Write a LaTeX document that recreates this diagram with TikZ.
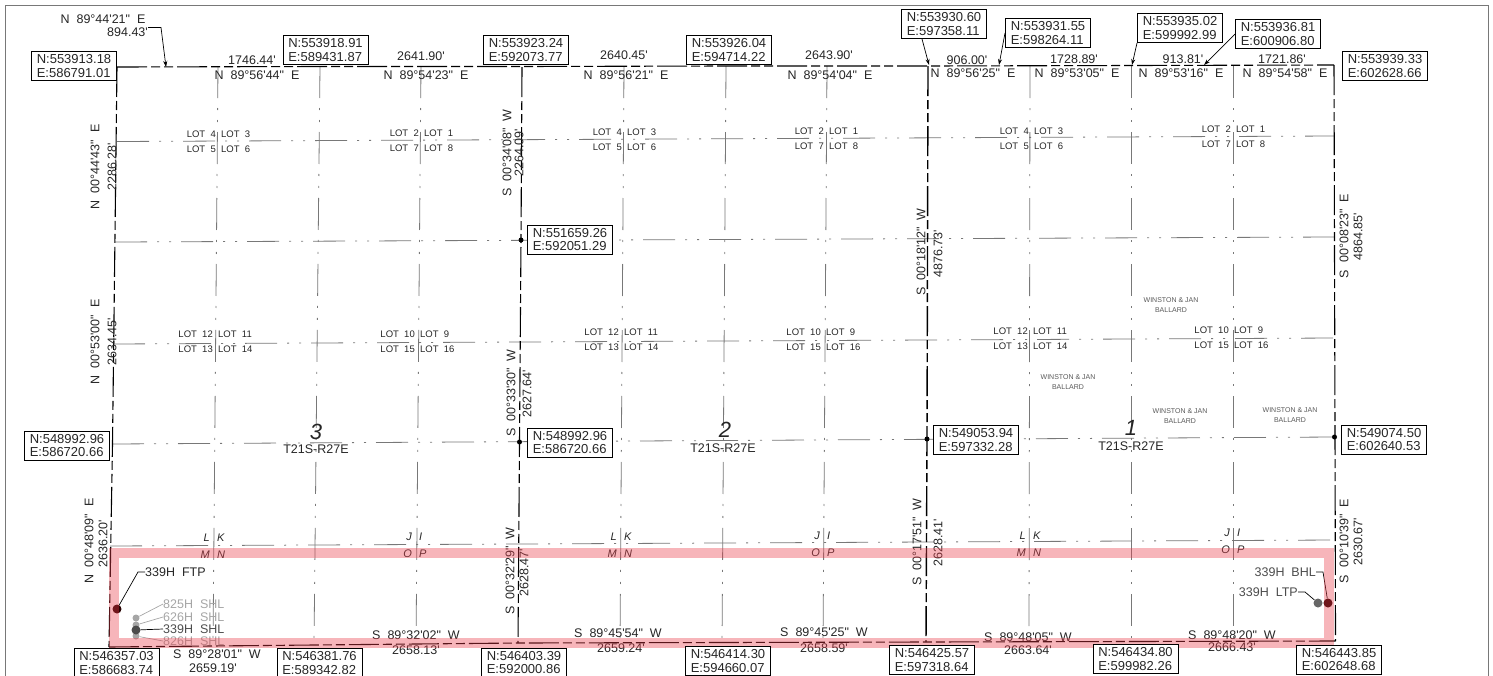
\documentclass[tikz,border=0pt]{standalone}
\usepackage{fontspec}
\usetikzlibrary{arrows.meta}
\newfontfamily\cadfont{Liberation Sans}
\definecolor{bandred}{RGB}{234,60,73}
\definecolor{linegray}{RGB}{120,120,120}
\tikzset{
    cad/.style={font=\cadfont\fontsize{12.5}{13.5}\selectfont, inner sep=0pt, text=black!85},
    coordbox/.style={cad, font=\cadfont\fontsize{13}{13.5}\selectfont, draw=black, fill=white, line width=1pt, align=left, minimum width=85pt, minimum height=29pt},
    lotname/.style={cad, font=\cadfont\fontsize{9.5}{11}\selectfont},
    owner/.style={cad, font=\cadfont\fontsize{7}{10.5}\selectfont, text=black!65, align=center},
    section/.style={cad, font=\cadfont\itshape\fontsize{22}{24}\selectfont},
    aliquot/.style={cad, font=\cadfont\itshape\fontsize{11}{12}\selectfont},
    boundary/.style={black, line width=1.1pt, dash pattern=on 30pt off 4pt on 9pt off 4pt on 9pt off 4pt},
    quarter/.style={linegray, line width=0.8pt, dash pattern=on 32pt off 10pt on 2pt off 10pt on 2pt off 10pt},
    leader/.style={black, line width=0.7pt},
    arrowed/.style={leader, -{Stealth[length=6pt,width=4pt]}},
    corner/.style={circle, fill=black, inner sep=0pt, minimum size=5pt},
    well/.style={circle, inner sep=0pt, minimum size=#1},
}
\begin{document}
\begin{tikzpicture}[x=1pt, y=-1pt]
    \clip (0,0) rectangle (1493,675);
    \draw[linegray, line width=1pt] (5,5) rectangle (1488,700);

    % quarter lines
    \foreach \ya/\xa/\yb in {141.5/117/136, 242/115/237, 344/113/338, 444/112/437, 546/110/540}
        \draw[quarter] (\xa,\ya) -- (1334,\yb);
    \foreach \xa/\xb in {218/213, 320/314, 421/416, 624/620, 726/722, 827/823, 1030/1029, 1131/1131, 1233/1233}
        \draw[quarter] (\xa,66) -- (\xb,645);

    % section lines
    \draw[boundary] (117,67) -- (320,66.5) -- (522,66.5) -- (726,66) -- (928,66) -- (1131,65.5) -- (1334,65);
    \draw[boundary] (117,67) -- (112.5,444) -- (109,647);
    \draw[boundary] (1334,65) -- (1335,437) -- (1335.5,641);
    \draw[boundary] (109,647) -- (518,643) -- (926,642) -- (1335.5,641);
    \draw[boundary] (522,67) -- (521,240) -- (519.5,442) -- (518,643);
    \draw[boundary, line width=1.4pt] (928,66) -- (927,439) -- (926,642);

    \node[corner] (c1) at (521,240) {};
    \node[corner] (c2) at (519.5,442) {};
    \node[corner] (c3) at (927,439) {};
    \node[corner] (c4) at (1334.5,437) {};

    % lots
    \foreach \nn/\cx/\cy/\ca/\cb/\cc/\cd in {
        a/218/134/4/3/5/6, b/421/133/2/1/7/8, c/624/132/4/3/5/6, d/826/131/2/1/7/8, e/1031/131/4/3/5/6, f/1233/129/2/1/7/8,
        g/215/334/12/11/13/14, h/417/334/10/9/15/16, i/621/332/12/11/13/14, j/823/332/10/9/15/16, k/1030/331/12/11/13/14, l/1231/330/10/9/15/16}{
        \node[lotname, anchor=east] (\nn1) at (\cx-2,\cy) {LOT~~\ca};
        \node[lotname, anchor=west] (\nn2) at (\cx+3,\cy) {LOT~~\cb};
        \node[lotname, anchor=east] (\nn3) at (\cx-2,\cy+15) {LOT~~\cc};
        \node[lotname, anchor=west] (\nn4) at (\cx+3,\cy+15) {LOT~~\cd};
    }
    \foreach \nn/\cx/\cy/\ca/\cb/\cc/\cd in {
        m/213/538/L/K/M/N, n/415/537/J/I/O/P, o/620/537/L/K/M/N, p/823/536/J/I/O/P, q/1029/536/L/K/M/N, r/1233/533/J/I/O/P}{
        \node[aliquot, anchor=east] (\nn1) at (\cx-3,\cy) {\ca};
        \node[aliquot, anchor=west] (\nn2) at (\cx+4,\cy) {\cb};
        \node[aliquot, anchor=east] (\nn3) at (\cx-3,\cy+17) {\cc};
        \node[aliquot, anchor=west] (\nn4) at (\cx+4,\cy+17) {\cd};
    }

    % sections
    \node[section] (sec3) at (316,432) {3};
    \node[cad] (twn3) at (316,449) {T21S-R27E};
    \node[section] (sec2) at (725,430) {2};
    \node[cad] (twn2) at (723,448) {T21S-R27E};
    \node[section] (sec1) at (1131,428) {1};
    \node[cad] (twn1) at (1131,446) {T21S-R27E};

    \node[owner] (own1) at (1171,305) {WINSTON \& JAN\\BALLARD};
    \node[owner] (own2) at (1068,382) {WINSTON \& JAN\\BALLARD};
    \node[owner] (own3) at (1180,416) {WINSTON \& JAN\\BALLARD};
    \node[owner] (own4) at (1290,415) {WINSTON \& JAN\\BALLARD};

    % bearings and distances along the lines
    \foreach \nn/\cx/\cy/\txt in {
        t1/252/60/{1746.44'}, t2/257/75/{N~~89°56'44"~~E},
        t3/421/56/{2641.90'}, t4/426/75/{N~~89°54'23"~~E},
        t5/624/55/{2640.45'}, t6/626/75/{N~~89°56'21"~~E},
        t7/829/55/{2643.90'}, t8/830/75/{N~~89°54'04"~~E},
        t9/967/60/{906.00'}, t10/973/73/{N~~89°56'25"~~E},
        t11/1074/59/{1728.89'}, t12/1077/73/{N~~89°53'05"~~E},
        t13/1183/59/{913.81'}, t14/1181/73/{N~~89°53'16"~~E},
        t15/1282/59/{1721.86'}, t16/1285/73/{N~~89°54'58"~~E},
        b1/217/654/{S~~89°28'01"~~W}, b2/213/668/{2659.19'},
        b3/416/635/{S~~89°32'02"~~W}, b4/416/650/{2658.13'},
        b5/618/633/{S~~89°45'54"~~W}, b6/621/648/{2659.24'},
        b7/824/632/{S~~89°45'25"~~W}, b8/824/648/{2658.59'},
        b9/1028/637/{S~~89°48'05"~~W}, b10/1028/650/{2663.64'},
        b11/1232/635/{S~~89°48'20"~~W}, b12/1232/647/{2666.43'}}
        \node[cad] (\nn) at (\cx,\cy) {\txt};
    \foreach \nn/\cx/\cy/\txt in {
        l1/95/167/{N~~00°44'43"~~E}, l2/112/167/{2286.28'},
        l3/95/342/{N~~00°53'00"~~E}, l4/112/342/{2634.45'},
        l5/89/541/{N~~00°48'09"~~E}, l6/103/544/{2636.20'},
        m1/507/153/{S~~00°34'08"~~W}, m2/519/153/{2264.09'},
        m3/511/393/{S~~00°33'30"~~W}, m4/527/394/{2627.64'},
        m5/510/571/{S~~00°32'29"~~W}, m6/524/573/{2628.47'},
        n1/921/252/{S~~00°18'12"~~W}, n2/938/254/{4876.73'},
        n3/917/542/{S~~00°17'51"~~W}, n4/938/543/{2628.41'},
        r1/1344/236/{S~~00°08'23"~~E}, r2/1358/237/{4864.85'},
        r3/1344/541/{S~~00°10'39"~~E}, r4/1358/542/{2630.67'}}
        \node[cad, rotate=90] (\nn) at (\cx,\cy) {\txt};

    % lateral
    \node[cad, anchor=west] (ftp) at (145,572) {339H~~FTP};
    \node[cad, anchor=west, text=black!35] (s825) at (163,604) {825H~~SHL};
    \node[cad, anchor=west, text=black!35] (s626) at (163,617) {626H~~SHL};
    \node[cad, anchor=west, text=black!70] (s339) at (163,629) {339H~~SHL};
    \node[cad, anchor=west, text=black!35] (s826) at (163,641) {826H~~SHL};
    \node[cad, anchor=east, text=black!70] (bhl) at (1316,572) {339H~~BHL};
    \node[cad, anchor=east, text=black!70] (ltp) at (1298,592) {339H~~LTP};

    \node[well=7pt, fill=black!35] (w825) at (136,618) {};
    \node[well=7pt, fill=black!35] (w826) at (136,636) {};
    \node[well=7pt, fill=black!35] (w626) at (136,625) {};
    \node[well=9pt, fill=black!70] (w339) at (136,630) {};
    \node[well=9pt, fill=black!85!red] (wftp) at (117,609) {};
    \node[well=9pt, fill=black!60] (wltp) at (1318,603) {};
    \node[well=9pt, fill=black!85!red] (wbhl) at (1328,603) {};

    \draw[leader, black!35] (s825.west) -- (w825);
    \draw[leader, black!35] (s626.west) -- (w626);
    \draw[leader] (s339.west) -- (w339);
    \draw[leader, black!35] (s826.west) -- (w826);
    \draw[leader] (ftp.west) -- ++(-7,0) -- (wftp);
    \draw[leader] (bhl.east) -- ++(7,0) -- (wbhl);
    \draw[leader] (ltp.east) -- ++(7,0) -- (wltp);

    \draw[bandred, opacity=0.38, line width=10pt] (113.5,553) rectangle (1329,643);

    % monuments
    \foreach \nn/\cx/\cy/\ta/\tb in {
        p1/74/66/553913.18/586791.01, p2/325.5/50/553918.91/589431.87, p3/526/50/553923.24/592073.77,
        p4/729/50/553926.04/594714.22, p5/944/24/553930.60/597358.11, p6/1048/33/553931.55/598264.11,
        p7/1180/28/553935.02/599992.99, p8/1278/34/553936.81/600906.80, p9/1385/66/553939.33/602628.66,
        p10/570/239.5/551659.26/592051.29, p11/67/445.5/548992.96/586720.66, p12/570/442.5/548992.96/586720.66,
        p13/976/440/549053.94/597332.28, p14/1384/439.5/549074.50/602640.53,
        p15/116.5/663/546357.03/586683.74, p16/319.5/663/546381.76/589342.82, p17/524/662.5/546403.39/592000.86,
        p18/728/661/546414.30/594660.07, p19/932/660/546425.57/597318.64, p20/1135.5/659/546434.80/599982.26,
        p21/1339/659.5/546443.85/602648.68}
        \node[coordbox] (\nn) at (\cx,\cy) {N:\ta\\E:\tb};

    % call outs
    \node[cad] (d0) at (103,19) {N~~89°44'21"~~E};
    \node[cad] (d1) at (127.5,32) {894.43'};
    \coordinate (k0) at (161,27.5);
    \coordinate (q0) at (166,67);
    \coordinate (q1) at (929,65);
    \coordinate (q2) at (999,65);
    \coordinate (q3) at (1132,65);
    \coordinate (q4) at (1204,65);
    \draw[arrowed] (d1.east |- k0) -- (k0) -- (q0);
    \draw[arrowed] (p5.south west) ++(21,0) -- (q1);
    \draw[arrowed] (p6.west) -- (q2);
    \draw[arrowed] (p7.south west) -- (q3);
    \draw[arrowed] (p8.west) -- (q4);
\end{tikzpicture}
\end{document}
